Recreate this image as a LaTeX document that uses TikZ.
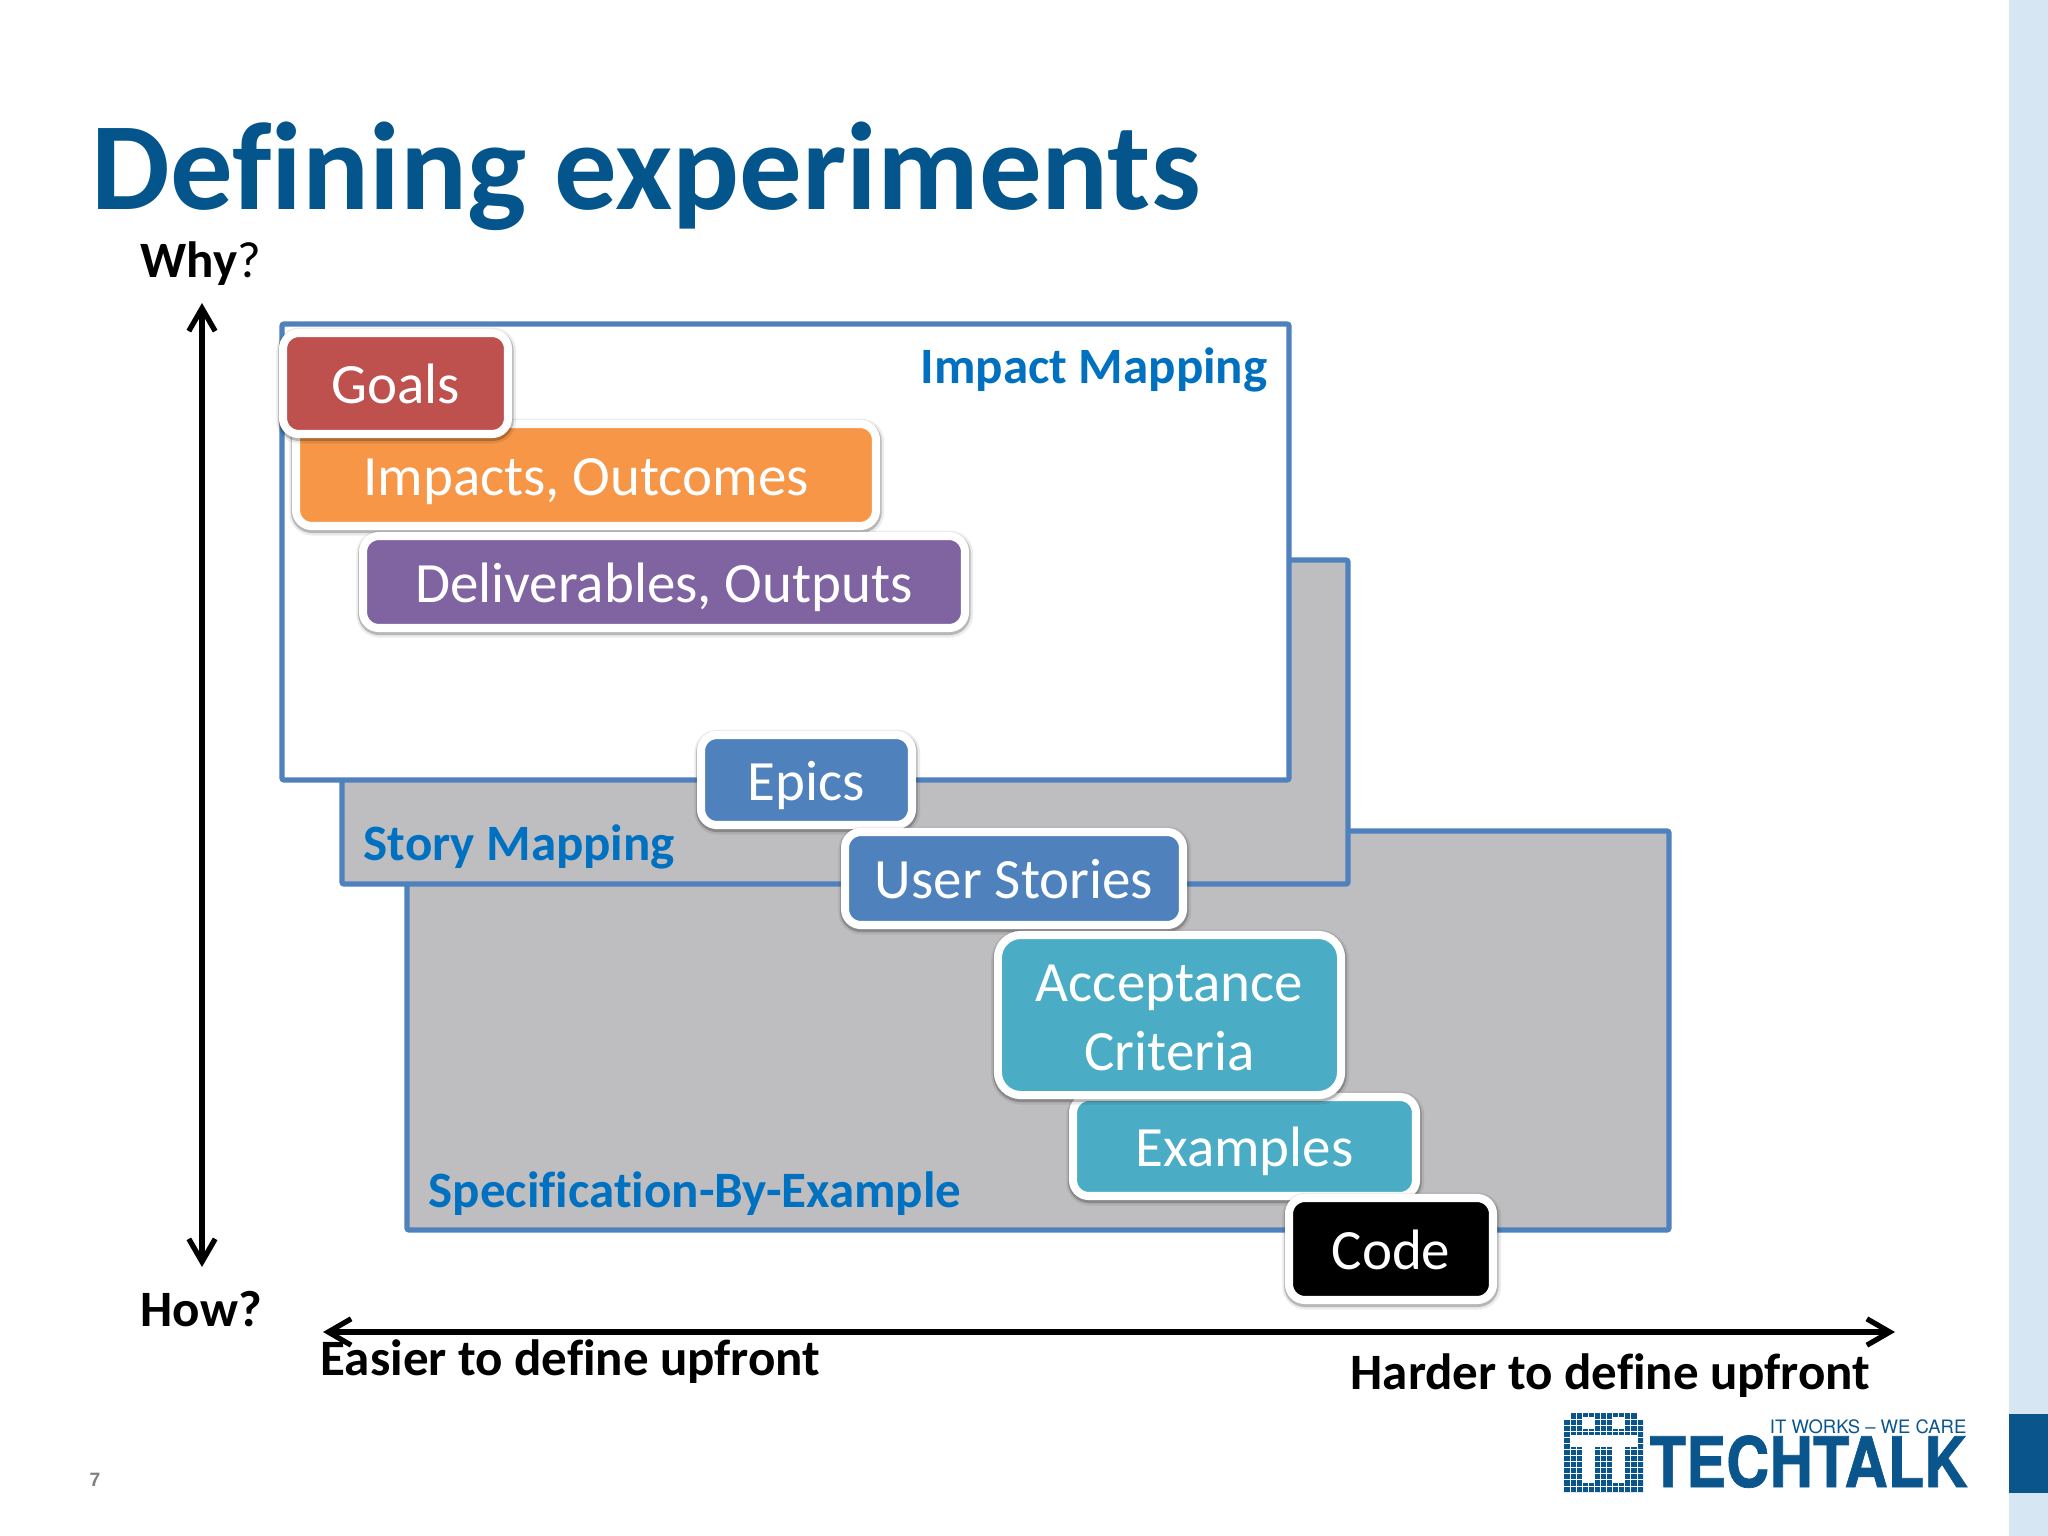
\documentclass[tikz,border=0pt]{standalone}
\usepackage{fontspec}
\setmainfont{Carlito}[Ligatures=CommonOff]
\newfontfamily\logofont{TeX Gyre Heros}[BoldFeatures={FakeBold=1}]
\newfontfamily\pagefont{Liberation Sans}
\usepackage{xcolor}
\usepackage{tikz}
\usetikzlibrary{arrows.meta}
\definecolor{titleblue}{RGB}{4,85,140}
\definecolor{labelblue}{RGB}{0,112,192}
\definecolor{framecolor}{RGB}{79,129,189}
\definecolor{panelgray}{RGB}{190,190,192}
\definecolor{stripblue}{RGB}{214,230,242}
\definecolor{logoblue}{RGB}{10,85,140}
\definecolor{goalred}{RGB}{190,80,77}
\definecolor{impactorange}{RGB}{247,150,70}
\definecolor{delivpurple}{RGB}{128,100,162}
\definecolor{storyblue}{RGB}{79,129,189}
\definecolor{criteriateal}{RGB}{75,172,198}
\tikzset{
	framebox/.style={draw=framecolor, line width=1.5pt, rounded corners=0.6pt},
	softedge/.style={preaction={draw=black, opacity=0.08, line width=4.2pt, transform canvas={xshift=0.2pt, yshift=-0.6pt}}, preaction={draw=black, opacity=0.22, line width=3pt, transform canvas={xshift=0.1pt, yshift=-0.5pt}}},
	stagebox/.style={softedge, draw=white, line width=2.3pt, rounded corners=4.5pt, text=white, align=center, font=\fontsize{16.2}{19.7}\selectfont},
	oneline/.style={text height=11.4pt, text depth=0pt},
	maplabel/.style={anchor=base west, inner sep=0pt, text=labelblue, font=\fontsize{14.5}{17}\selectfont\bfseries},
	axislabel/.style={anchor=base west, inner sep=0pt, font=\fontsize{14.5}{17}\selectfont\bfseries},
	axisarrow/.style={<->, >={Straight Barb[length=6.5pt,width=7.5pt]}, line width=1.5pt, line cap=round}
}
\begin{document}
\begin{tikzpicture}[x=0.01cm,y=-0.01cm]
	\useasboundingbox (0,0) rectangle (2048,1536);
	\fill[white] (0,0) rectangle (2048,1536);
	\fill[stripblue] (2009,0) rectangle (2048,1536);
	\fill[logoblue] (2009,1414) rectangle (2048,1493);
	\node[anchor=base west, inner sep=0pt, text=titleblue, font=\fontsize{35.5}{42}\selectfont\bfseries] (title) at (91,209) {Defining experiments};
	\filldraw[framebox, fill=panelgray] (407,831) rectangle (1669,1230);
	\filldraw[framebox, fill=panelgray] (342,560) rectangle (1348,884);
	\filldraw[framebox, fill=white] (282,324) rectangle (1289,780);
	\node[maplabel] (impactlabel) at (920,383) {Impact Mapping};
	\node[maplabel] (storylabel) at (363,860) {Story Mapping};
	\node[maplabel] (speclabel) at (428,1207) {Specification-By-Example};
	\foreach \n/\xa/\ya/\xb/\yb/\c/\t in {impacts/300/428/872/522/impactorange/{Impacts, Outcomes},goals/287/337/504/430/goalred/Goals,deliverables/367/540/961/624/delivpurple/{Deliverables, Outputs},epics/705/739/908/821/storyblue/Epics,stories/849/836/1179/921/storyblue/User Stories,examples/1077/1101/1412/1192/criteriateal/Examples,code/1293/1202/1489/1296/black/Code}
	{
		\node[stagebox, oneline, fill=\c, minimum width={(\xb-\xa+8)*0.01cm}, minimum height={(\yb-\ya+8)*0.01cm}] (\n) at ({(\xa+\xb)/2},{(\ya+\yb)/2}) {\t};
	}
	\node[stagebox, rounded corners=6.5pt, text height=31.5pt, text depth=0pt, fill=criteriateal, minimum width=3.43cm, minimum height=1.6cm] (criteria) at (1169.5,1015) {Acceptance\\Criteria};
	\node[axislabel] (why) at (140,277) {Why\textmd{?}};
	\node[axislabel] (how) at (140,1326) {How?};
	\coordinate (whyend) at (202,303);
	\coordinate (howend) at (202,1267);
	\draw[axisarrow] (whyend) -- (howend);
	\coordinate (easyend) at (323,1332);
	\coordinate (hardend) at (1895,1332);
	\draw[axisarrow] (easyend) -- (hardend);
	\node[axislabel] (easier) at (320,1375) {Easier to define upfront};
	\node[axislabel] (harder) at (1350,1389) {Harder to define upfront};
	\node[anchor=base west, inner sep=0pt, text=gray, font=\pagefont\fontsize{5.5}{7}\selectfont\bfseries] (pagenum) at (89,1486) {7};
	\fill[logoblue] (1570,1413) -- (1637,1413) -- (1637,1419) -- (1643,1419) -- (1643,1492) -- (1564,1492) -- (1564,1419) -- (1570,1419) -- cycle;
	\fill[white] (1582,1417) rectangle (1594,1429);
	\fill[white] (1613,1417) rectangle (1625,1429);
	\fill[white] (1570,1435) rectangle (1637,1447);
	\fill[white] (1582,1447) rectangle (1594,1483);
	\fill[white] (1613,1447) rectangle (1625,1483);
	\foreach \i in {1,...,12}
	{
		\draw[white, line width=0.25pt] (1564+\i*6.08,1413) -- (1564+\i*6.08,1492);
		\draw[white, line width=0.25pt] (1564,1413+\i*6.08) -- (1643,1413+\i*6.08);
	}
	\node[anchor=base east, inner sep=0pt, text=logoblue, font=\logofont\fontsize{5.25}{6}\selectfont] (slogan) at (1967,1433) {IT WORKS – WE CARE};
	\node[anchor=base west, inner sep=0pt, text=logoblue, xscale=0.86, font=\logofont\fontsize{19.8}{24}\selectfont\bfseries] (techtalk) at (1649,1487) {TECHTALK};
\end{tikzpicture}
\end{document}
